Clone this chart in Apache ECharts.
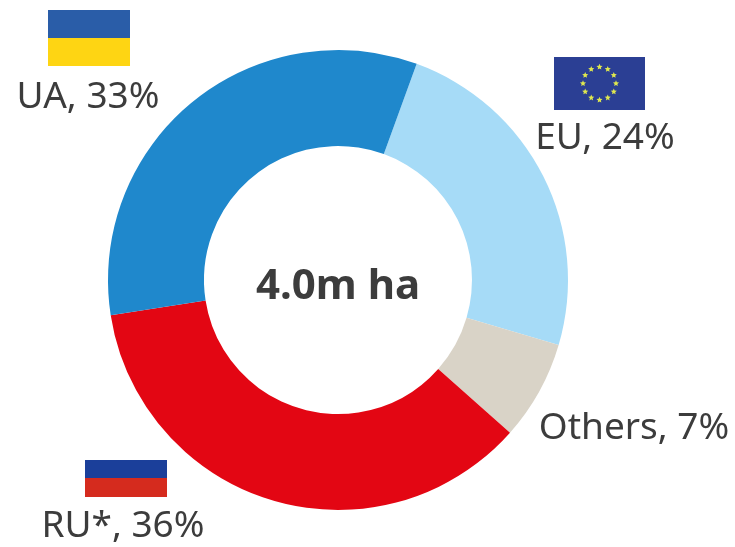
<!DOCTYPE html>
<html>
<head>
<meta charset="utf-8">
<style>html,body{margin:0;padding:0;background:#fff}#chart{width:735px;height:547px}</style>
<script src="https://cdn.jsdelivr.net/npm/echarts@6/dist/echarts.min.js"></script>
</head>
<body>
<div id="chart"></div>
<script>
// Share of area by holder, clockwise from the EU slice
const categories = ['EU', 'Others', 'RU*', 'UA'];
const shares = [24, 7, 36, 33];
const sliceColors = ['#a6dbf7', '#d9d3c7', '#e30613', '#1f88cc'];
const labelSpots = [[605, 138], [634, 428], [123, 526], [88, 97]];
const centerText = '4.0m ha';
const textColor = '#3c3c3c';
const fontFamily = '"Noto Sans", sans-serif';

// Ring of twelve stars for the EU flag
function star(cx, cy, r) {
  const pts = [];
  for (let i = 0; i < 10; i++) {
    const a = -Math.PI / 2 + i * Math.PI / 5;
    const d = i % 2 ? r * 0.45 : r;
    pts.push([cx + d * Math.cos(a), cy + d * Math.sin(a)]);
  }
  return { type: 'polygon', shape: { points: pts }, style: { fill: '#dfe84f' } };
}
const euStars = [];
for (let i = 0; i < 12; i++) {
  const a = i * Math.PI / 6;
  euStars.push(star(599.5 + 16.5 * Math.sin(a), 83.5 - 16.5 * Math.cos(a), 3.2));
}
const rect = (x, y, width, height, fill) => ({ type: 'rect', shape: { x, y, width, height }, style: { fill } });
const flagLabel = (i) => ({
  type: 'text',
  x: labelSpots[i][0],
  y: labelSpots[i][1],
  style: {
    text: categories[i] + ', ' + shares[i] + '%',
    fontFamily,
    fontSize: 37,
    fill: textColor,
    align: 'center',
    verticalAlign: 'middle'
  }
});

const chart = echarts.init(document.getElementById('chart'), null, { renderer: 'canvas' });
chart.setOption({
  animation: false,
  backgroundColor: '#ffffff',
  series: [{
    type: 'pie',
    center: [338, 280],
    radius: [134, 230],
    startAngle: 70,
    clockwise: true,
    silent: true,
    labelLine: { show: false },
    label: { show: false },
    data: categories.map((name, i) => ({
      name,
      value: shares[i],
      itemStyle: { color: sliceColors[i] }
    }))
  }],
  graphic: [
    { type: 'text', x: 338, y: 287, style: { text: centerText, fontFamily, fontWeight: 'bold', fontSize: 42, fill: textColor, align: 'center', verticalAlign: 'middle' } },
    ...categories.map((_, i) => flagLabel(i)),
    rect(48, 10, 82, 28, '#2a5da8'),
    rect(48, 38, 82, 28, '#fed513'),
    rect(85, 460, 82, 19, '#1b3f9a'),
    rect(85, 478, 82, 19, '#d52b1e'),
    rect(554, 57, 91, 53, '#2b3f94'),
    ...euStars
  ]
});
</script>
</body>
</html>
